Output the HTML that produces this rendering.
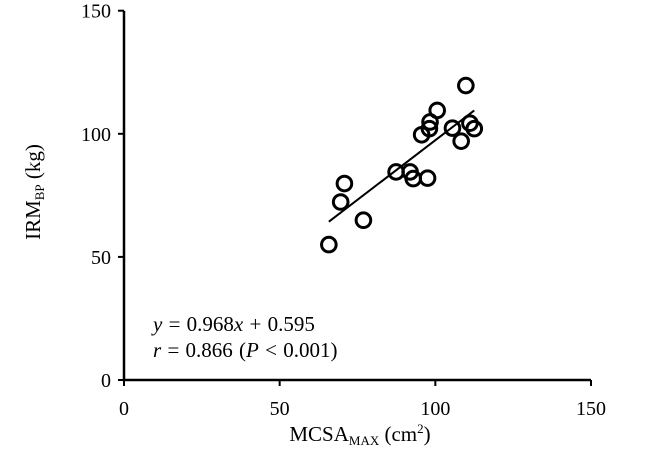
<!DOCTYPE html>
<html><head><meta charset="utf-8"><style>
body{margin:0;background:#fff}
svg text{font-family:"Liberation Serif",serif;fill:#000}
</style></head><body>
<svg width="650" height="450" viewBox="0 0 650 450">
<g id="axes"></g>
<g id="marks"></g>
<text x="153" y="331" font-size="21" word-spacing="1"><tspan font-style="italic">y</tspan> = 0.968<tspan font-style="italic">x</tspan> + 0.595</text>
<text x="153" y="357" font-size="21" word-spacing="1"><tspan font-style="italic">r</tspan> = 0.866 (<tspan font-style="italic">P</tspan> &lt; 0.001)</text>
<text x="360" y="441" font-size="21" text-anchor="middle">MCSA<tspan font-size="13" dy="4">MAX</tspan><tspan dy="-4"> (cm</tspan><tspan font-size="13" dy="-8">2</tspan><tspan dy="8">)</tspan></text>
<text transform="translate(40,192) rotate(-90)" font-size="21" text-anchor="middle">IRM<tspan font-size="13" dy="4">BP</tspan><tspan dy="-4"> (kg)</tspan></text>
</svg>
<script>
const xs=[65.8,70.8,69.6,76.9,87.4,91.9,92.9,97.5,95.6,98.1,98.3,100.6,105.5,108.3,109.8,111.1,112.5];
const ys=[55.0,79.8,72.3,64.9,84.5,84.5,81.8,82.0,99.6,102.1,104.8,109.5,102.3,97.0,119.6,104.3,102.1];
const xTicks=[0,50,100,150];
const yTicks=[0,50,100,150];
const slope=0.968, intercept=0.595;
const X=v=>124+v*(467/150);
const Y=v=>380-v*(369.3/150);
const NS='http://www.w3.org/2000/svg';
const axes=document.getElementById('axes'), marks=document.getElementById('marks');
function mk(tag,attrs,parent){const e=document.createElementNS(NS,tag);for(const k in attrs)e.setAttribute(k,attrs[k]);parent.appendChild(e);return e;}
let l=mk('line',{x1:X(0),y1:Y(0),x2:X(150),y2:Y(0),stroke:'#000','stroke-width':2.5},axes);


l=mk('line',{x1:X(0),y1:Y(0),x2:X(0),y2:Y(150),stroke:'#000','stroke-width':2.5},axes);


xTicks.forEach(t=>{
 mk('line',{x1:X(t),y1:Y(0),x2:X(t),y2:Y(0)+6,stroke:'#000','stroke-width':2},axes);
 const tx=mk('text',{x:X(t),y:415,'font-size':20,'text-anchor':'middle'},axes);
 tx.textContent=t;
 
 
});
yTicks.forEach(t=>{
 mk('line',{x1:X(0)-6,y1:Y(t),x2:X(0),y2:Y(t),stroke:'#000','stroke-width':2},axes);
 const tx=mk('text',{x:111,y:Y(t)+7,'font-size':20,'text-anchor':'end'},axes);
 tx.textContent=t;
 
 
});
const xmin=Math.min(...xs), xmax=Math.max(...xs);
const rl=mk('line',{x1:X(xmin),y1:Y(slope*xmin+intercept),x2:X(xmax),y2:Y(slope*xmax+intercept),stroke:'#000','stroke-width':2},marks);


xs.forEach((x,i)=>{
 const c=mk('circle',{cx:X(x),cy:Y(ys[i]),r:7.3,fill:'none',stroke:'#000','stroke-width':3},marks);
 
 
});
</script>
</body></html>
